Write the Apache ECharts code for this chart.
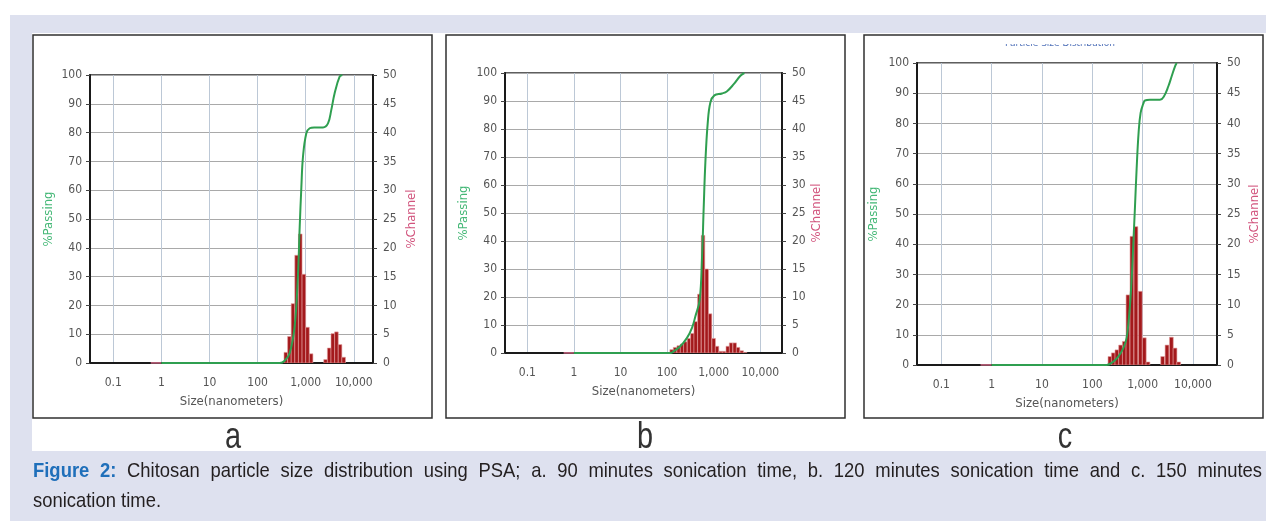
<!DOCTYPE html>
<html>
<head>
<meta charset="utf-8">
<script src="https://cdn.jsdelivr.net/npm/echarts@6/dist/echarts.min.js"></script>
<style>
html,body{margin:0;padding:0;background:#ffffff;}
#bgLav{position:absolute;left:10px;top:15px;width:1256px;height:506px;background:#dee1ef;}
#bgWhite{position:absolute;left:32px;top:33px;width:1234px;height:418px;background:#ffffff;}
#chart{position:absolute;left:0;top:0;width:1266px;height:521px;}
</style>
</head>
<body>
<div id="bgLav"></div>
<div id="bgWhite"></div>
<div id="chart"></div>
<script>
// ---------------- DATA ----------------
const X_TICK_VALUES = [0.1, 1, 10, 100, 1000, 10000];
const X_TICK_LABELS = ['0.1', '1', '10', '100', '1,000', '10,000'];
const PASSING_TICKS = [0, 10, 20, 30, 40, 50, 60, 70, 80, 90, 100];
const CHANNEL_TICKS = [0, 5, 10, 15, 20, 25, 30, 35, 40, 45, 50];
const X_NAME = 'Size(nanometers)';
const PASSING_NAME = '%Passing';
const CHANNEL_NAME = '%Channel';
const PANEL_LETTERS = ['a', 'b', 'c'];
const PANEL_C_TITLE = 'Particle Size Distribution';
const CAPTION_BOLD = 'Figure 2:';
const CAPTION_LINE1 = 'Chitosan particle size distribution using PSA; a. 90 minutes sonication time, b. 120 minutes sonication time and c. 150 minutes';
const CAPTION_LINE2 = 'sonication time.';

// channel zero trace (drawn just below 1 nm)
const zeroTraceSizes = [0.6, 1];
const zeroTraceValues = [0, 0];

// panel a (90 min)
const channelSizesA = [386, 459, 545, 648, 771, 917, 1091, 1297, 2594, 3084, 3668, 4362, 5187, 6169];
const channelValuesA = [1.85, 4.6, 10.3, 18.7, 22.4, 15.4, 6.2, 1.6, 0.6, 2.6, 5.1, 5.4, 3.2, 1.0];
const passingSizesA = [1, 288, 366, 466, 590, 693, 750, 813, 880, 1032, 1211, 1500, 2293, 2911, 3412, 3990, 5080, 5780];
const passingValuesA = [0, 0, 0.8, 3.5, 12.7, 31, 47, 61, 71.7, 79.8, 81.5, 81.8, 81.8, 83.2, 87.9, 93.6, 99.4, 100];

// panel b (120 min)
const channelSizesB = [125, 148, 177, 209, 246, 295, 348, 411, 492, 590, 708, 834, 1000, 1179, 1414, 1667, 2000, 2357, 2826, 3333, 3998, 4713];
const channelValuesB = [0.6, 1.0, 1.3, 1.6, 2.0, 2.6, 3.5, 5.6, 10.5, 21.0, 15.0, 7.0, 2.6, 1.2, 0.3, 0.3, 1.2, 1.8, 1.8, 1.0, 0.4, 0.1];
const passingSizesB = [1, 118, 138, 192, 267, 342, 403, 500, 561, 610, 662, 743, 848, 1033, 1510, 1936, 2690, 3742, 4560];
const passingValuesB = [0, 0, 0.6, 2.4, 5.4, 9, 13, 19, 34, 52, 68, 82, 89.5, 92, 92.7, 93.5, 96, 99, 100];

// panel c (150 min)
const channelSizesC = [224, 261, 308, 365, 432, 511, 613, 736, 899, 1079, 1277, 2500, 3050, 3725, 4405, 5209];
const channelValuesC = [1.4, 2.0, 2.5, 3.3, 3.9, 11.6, 21.3, 22.9, 12.2, 4.5, 0.5, 1.4, 3.3, 4.6, 2.8, 0.5];
const passingSizesC = [1, 192, 261, 328, 412, 480, 543, 604, 652, 703, 760, 832, 912, 1031, 1112, 1399, 2214, 2660, 3245, 3776, 4405, 4755];
const passingValuesC = [0, 0, 1.1, 2.8, 5.5, 9, 17, 28, 40, 52, 65, 77, 83.5, 86.5, 87.6, 87.8, 87.8, 89, 92.3, 95.6, 98.9, 100];

// ---------------- LAYOUT / STYLE ----------------
const CHANNEL_HALF_RATIO = Math.pow(2, 1 / 8); // each channel spans a quarter octave
const PANELS = [
  { frame: [33, 35, 399, 383], grid: [90, 75, 283, 288], xRange: [Math.pow(10, -1.485), Math.pow(10, 4.40)], letterX: 233, passGap: 35, chanGap: 32,
    ch: [channelSizesA, channelValuesA], pass: [passingSizesA, passingValuesA] },
  { frame: [446, 35, 399, 383], grid: [505, 73, 277, 280], xRange: [Math.pow(10, -1.48), Math.pow(10, 4.466)], letterX: 645, passGap: 35, chanGap: 28,
    ch: [channelSizesB, channelValuesB], pass: [passingSizesB, passingValuesB] },
  { frame: [864, 35, 399, 383], grid: [917, 63, 300, 302], xRange: [Math.pow(10, -1.484), Math.pow(10, 4.478)], letterX: 1065, passGap: 37, chanGap: 31,
    ch: [channelSizesC, channelValuesC], pass: [passingSizesC, passingValuesC] }
];
const TICK_FONT = '"DejaVu Sans Condensed", "DejaVu Sans", sans-serif';
const CAPTION_FONT = '"Liberation Sans", Arial, sans-serif';
const LABEL_COLOR = '#555555';
const GREEN = '#2f9f50';
const BAR_FILL = '#a3191c';
const CAPTION_SIZE = 21;
const CAPTION_X = 33;
const CAPTION_LINE1_WIDTH = 1229;   // line 1 is justified to this width
const CAPTION_LINE2_WIDTH = 128;    // natural width of line 2 sets the condensing

function zip(a, b) { return a.map((v, i) => [v, b[i]]); }

function xLabel(v) {
  const lg = Math.log10(v);
  const r = Math.round(lg);
  if (Math.abs(lg - r) > 1e-6) return '';
  const i = X_TICK_VALUES.findIndex(t => Math.round(Math.log10(t)) === r);
  return i >= 0 ? X_TICK_LABELS[i] : '';
}

function barRenderer(params, api) {
  const size = api.value(0), pct = api.value(1);
  const lo = api.coord([size / CHANNEL_HALF_RATIO, 0]);
  const hi = api.coord([size * CHANNEL_HALF_RATIO, pct]);
  return {
    type: 'rect',
    shape: { x: lo[0], y: hi[1], width: hi[0] - lo[0], height: lo[1] - hi[1] },
    style: { fill: BAR_FILL, stroke: '#e4a0a0', lineWidth: 0.6 }
  };
}

const grids = [], xAxes = [], yAxes = [], series = [], graphics = [];

PANELS.forEach((p, i) => {
  grids.push({ left: p.grid[0], top: p.grid[1], width: p.grid[2], height: p.grid[3], show: true,
    backgroundColor: '#ffffff', borderColor: '#2a2a2a', borderWidth: 1.5, containLabel: false });
  xAxes.push({
    type: 'log', logBase: 10, gridIndex: i, min: p.xRange[0], max: p.xRange[1],
    name: X_NAME, nameLocation: 'middle', nameGap: 32,
    nameTextStyle: { color: LABEL_COLOR, fontSize: 13, fontFamily: TICK_FONT },
    axisLine: { show: true, lineStyle: { color: '#1a1a1a', width: 2 } },
    axisTick: { show: false },
    axisLabel: { formatter: xLabel, color: LABEL_COLOR, fontSize: 12, fontFamily: TICK_FONT, margin: 14,
      showMinLabel: true, showMaxLabel: true, hideOverlap: false },
    splitLine: { show: true, lineStyle: { color: '#bcc8d6', width: 1 } }
  });
  yAxes.push({
    type: 'value', gridIndex: i, position: 'left',
    min: PASSING_TICKS[0], max: PASSING_TICKS[PASSING_TICKS.length - 1], interval: PASSING_TICKS[1] - PASSING_TICKS[0],
    name: PASSING_NAME, nameLocation: 'middle', nameRotate: 90, nameGap: p.passGap,
    nameTextStyle: { color: '#45b877', fontSize: 13, fontFamily: TICK_FONT },
    axisLine: { show: true, lineStyle: { color: '#1a1a1a', width: 2 } },
    axisTick: { show: true, length: 4, lineStyle: { color: '#444' } },
    axisLabel: { color: LABEL_COLOR, fontSize: 12, fontFamily: TICK_FONT, margin: 8 },
    splitLine: { show: true, lineStyle: { color: '#a9a9a9', width: 1 } }
  });
  yAxes.push({
    type: 'value', gridIndex: i, position: 'right',
    min: CHANNEL_TICKS[0], max: CHANNEL_TICKS[CHANNEL_TICKS.length - 1], interval: CHANNEL_TICKS[1] - CHANNEL_TICKS[0],
    name: CHANNEL_NAME, nameLocation: 'middle', nameRotate: 90, nameGap: p.chanGap,
    nameTextStyle: { color: '#d2557e', fontSize: 13, fontFamily: TICK_FONT },
    axisLine: { show: true, lineStyle: { color: '#1a1a1a', width: 2 } },
    axisTick: { show: true, length: 4, lineStyle: { color: '#444' } },
    axisLabel: { color: LABEL_COLOR, fontSize: 12, fontFamily: TICK_FONT, margin: 10 },
    splitLine: { show: false }
  });
  series.push({
    type: 'custom', xAxisIndex: i, yAxisIndex: 2 * i + 1, clip: true, z: 3,
    renderItem: barRenderer, data: zip(p.ch[0], p.ch[1])
  });
  series.push({
    type: 'line', xAxisIndex: i, yAxisIndex: 2 * i + 1, showSymbol: false, symbol: 'none', z: 3,
    lineStyle: { color: '#e07090', width: 1.5 }, data: zip(zeroTraceSizes, zeroTraceValues)
  });
  series.push({
    type: 'line', xAxisIndex: i, yAxisIndex: 2 * i, showSymbol: false, symbol: 'none', z: 4,
    smooth: 0.4, clip: false,
    lineStyle: { color: GREEN, width: 2 }, data: zip(p.pass[0], p.pass[1])
  });
  graphics.push({ type: 'rect', z: 1, shape: { x: p.frame[0], y: p.frame[1], width: p.frame[2], height: p.frame[3] },
    style: { fill: null, stroke: '#303030', lineWidth: 1.5 } });
  graphics.push({ type: 'text', z: 1, x: p.letterX, y: 438, scaleX: 0.78,
    style: { text: PANEL_LETTERS[i], font: '37px ' + CAPTION_FONT, fill: '#333333', align: 'center', verticalAlign: 'middle',
      textAlign: 'center', textVerticalAlign: 'middle' } });
});

// cropped title at top of panel c
graphics.push({ type: 'text', z: 1, x: 1060, y: 44,
  style: { text: PANEL_C_TITLE, font: '9px "DejaVu Sans", sans-serif', fill: '#4f70b8', align: 'center', verticalAlign: 'middle',
    textAlign: 'center', textVerticalAlign: 'middle' } });
graphics.push({ type: 'rect', z: 2, shape: { x: 980, y: 37, width: 160, height: 7 }, style: { fill: '#ffffff' } });

// ---- caption: condensed text, first line justified ----
const mctx = document.createElement('canvas').getContext('2d');
function textW(t, bold) { mctx.font = (bold ? 'bold ' : '') + CAPTION_SIZE + 'px ' + CAPTION_FONT; return mctx.measureText(t).width; }
const CAPTION_SCALE = CAPTION_LINE2_WIDTH / textW(CAPTION_LINE2, false);
const words = CAPTION_BOLD.split(' ').map(w => ({ t: w, b: true })).concat(CAPTION_LINE1.split(' ').map(w => ({ t: w, b: false })));
const wordWidths = words.map(w => textW(w.t, w.b) * CAPTION_SCALE);
const gap = (CAPTION_LINE1_WIDTH - wordWidths.reduce((s, v) => s + v, 0)) / (words.length - 1);
let cx = CAPTION_X;
words.forEach((w, k) => {
  graphics.push({ type: 'text', z: 1, x: cx, y: 471, scaleX: CAPTION_SCALE,
    style: { text: w.t, font: (w.b ? 'bold ' : '') + CAPTION_SIZE + 'px ' + CAPTION_FONT, fill: w.b ? '#1f6fba' : '#231f20',
      verticalAlign: 'middle', textVerticalAlign: 'middle' } });
  cx += wordWidths[k] + gap;
});
graphics.push({ type: 'text', z: 1, x: CAPTION_X, y: 501, scaleX: CAPTION_SCALE,
  style: { text: CAPTION_LINE2, font: CAPTION_SIZE + 'px ' + CAPTION_FONT, fill: '#231f20', verticalAlign: 'middle', textVerticalAlign: 'middle' } });

const chart = echarts.init(document.getElementById('chart'), null, { renderer: 'canvas' });
chart.setOption({
  animation: false,
  backgroundColor: 'transparent',
  grid: grids,
  xAxis: xAxes,
  yAxis: yAxes,
  series: series,
  graphic: graphics
});
</script>
</body>
</html>
